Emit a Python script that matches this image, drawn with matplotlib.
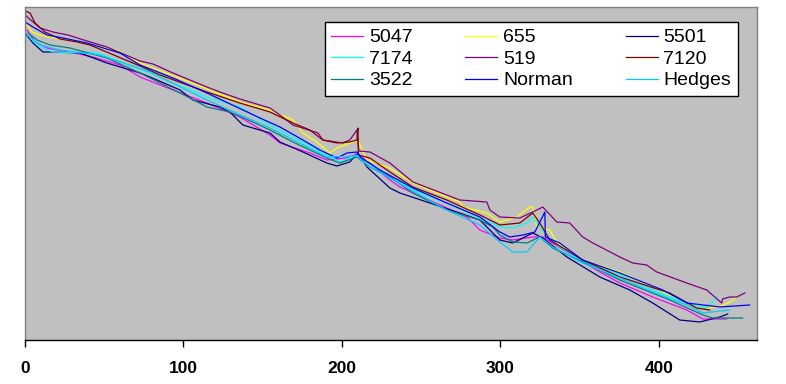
import matplotlib
matplotlib.use("Agg")
import matplotlib.pyplot as plt

plt.rcParams["font.family"] = ["Liberation Sans", "DejaVu Sans"]

# series (y in arbitrary units, the chart has no y labels)
x_5047 = [1.3, 6.3, 13.9, 28.4, 42.9, 59.9, 72.6, 93.4, 114.8, 135.6, 154.6, 160.9, 179.8, 190.5,
          203.2, 209.5, 217.7, 230.3, 236.6, 266.2, 278.9, 287.1, 299.7, 307.9, 320.5, 326.8,
          342.0, 362.8, 375.4, 396.2, 417.7, 427.8, 442.9]
y_5047 = [310, 298, 292, 288, 283, 275, 263, 250, 237, 223, 205, 197, 187, 180,
          182, 186, 177, 160, 153, 132, 123, 110, 102, 100, 103, 103,
          88, 68, 57, 43, 30, 21, 21]

x_655 = [1.3, 4.4, 9.5, 15.8, 34.7, 58.0, 72.6, 108.5, 135.6, 154.6, 169.1, 175.4, 184.2, 192.4,
         196.8, 206.9, 210.1, 215.8, 230.3, 244.8, 266.2, 274.4, 276.3, 291.5, 299.7, 310.4,
         318.6, 320.5, 323.0, 331.2, 335.6, 352.0, 375.4, 396.2, 417.7, 430.3, 438.5, 444.8, 449.2]
y_655 = [315, 308, 305, 303, 297, 290, 277, 255, 238, 230, 220, 207, 198, 187,
         192, 198, 200, 180, 172, 157, 143, 138, 133, 127, 118, 123,
         133, 133, 113, 110, 98, 80, 68, 53, 37, 32, 33, 38, 43]

x_5501 = [0.0, 5.0, 11.4, 17.7, 34.7, 51.7, 72.6, 78.9, 97.8, 106.0, 123.0, 129.3, 137.5, 143.8,
          154.6, 160.9, 175.4, 190.5, 196.8, 205.0, 210.1, 215.8, 230.3, 236.6, 255.5, 274.4,
          287.1, 299.7, 307.9, 320.5, 326.8, 342.0, 362.8, 381.7, 396.2, 413.2, 425.9, 438.5, 443.5]
y_5501 = [307, 297, 288, 288, 287, 277, 267, 263, 250, 240, 233, 228, 215, 212,
          207, 198, 188, 177, 174, 178, 187, 173, 152, 147, 137, 127,
          120, 100, 97, 107, 102, 83, 63, 50, 37, 20, 18, 23, 26]

x_7174 = [3.2, 9.5, 17.7, 45.4, 78.9, 93.4, 114.8, 135.6, 154.6, 169.1, 190.5, 198.7, 209.5, 215.8,
          230.3, 244.8, 266.2, 287.1, 299.7, 307.9, 316.7, 320.5, 324.9, 335.6, 352.0, 375.4,
          396.2, 417.7, 430.3, 436.6]
y_7174 = [302, 293, 288, 287, 267, 257, 243, 233, 215, 203, 185, 178, 185, 178,
          163, 150, 137, 122, 113, 112, 117, 123, 113, 95, 78, 65,
          50, 37, 32, 43]

x_519 = [0.0, 9.5, 17.7, 27.1, 39.1, 51.7, 72.6, 80.8, 93.4, 114.8, 123.0, 135.6, 154.6, 160.9,
         169.1, 184.9, 188.0, 200.6, 205.0, 209.5, 210.7, 217.7, 230.3, 244.8, 266.2, 274.4,
         291.5, 293.4, 299.7, 312.3, 320.5, 326.8, 335.6, 343.8, 352.0, 358.4, 375.4, 383.6,
         392.4, 398.7, 417.7, 430.3, 439.7, 440.3, 444.8, 449.2, 454.3]
y_519 = [325, 312, 308, 305, 299, 293, 279, 276, 267, 253, 248, 241, 232, 225,
         215, 207, 200, 197, 200, 210, 189, 188, 177, 158, 145, 140,
         138, 130, 123, 122, 128, 133, 118, 117, 103, 97, 83, 77,
         75, 68, 57, 50, 37, 41, 43, 43, 47]

x_7120 = [0.0, 3.2, 6.3, 12.6, 22.1, 32.8, 41.0, 72.6, 85.2, 114.8, 135.6, 154.6, 169.1, 179.8,
          188.0, 196.8, 205.0, 209.5, 210.1, 210.4, 217.7, 230.3, 244.8, 266.2, 287.1, 299.7,
          312.3, 320.5, 324.9, 331.2, 352.0, 375.4, 406.9, 423.9, 432.2]
y_7120 = [329, 327, 317, 308, 301, 298, 295, 274, 265, 248, 237, 228, 217, 210,
          200, 197, 198, 200, 212, 185, 182, 168, 153, 140, 125, 115,
          117, 127, 117, 100, 80, 63, 47, 32, 30]

x_3522 = [1.9, 7.6, 15.8, 28.4, 51.7, 72.6, 104.1, 114.8, 129.3, 143.8, 154.6, 169.1, 190.5, 198.7,
          209.5, 217.7, 230.3, 244.8, 266.2, 287.1, 295.3, 299.7, 307.9, 316.7, 324.9, 333.1,
          352.0, 375.4, 406.9, 427.8, 434.1, 452.9]
y_3522 = [307, 300, 295, 292, 282, 267, 242, 233, 228, 218, 210, 198, 182, 177,
          183, 173, 163, 147, 130, 120, 113, 105, 98, 97, 103, 92,
          78, 60, 40, 25, 22, 22]

x_norman = [0.0, 5.0, 13.9, 24.0, 39.1, 59.9, 72.6, 93.4, 114.8, 148.3, 160.9, 175.4, 186.1, 196.8,
            203.2, 209.5, 211.4, 224.0, 244.8, 266.2, 287.1, 299.7, 306.0, 314.2, 321.8, 328.1,
            328.4, 337.5, 352.0, 375.4, 402.5, 417.7, 438.5, 457.4]
y_norman = [318, 313, 305, 302, 297, 287, 275, 262, 247, 222, 213, 200, 190, 182,
            187, 188, 183, 170, 152, 137, 123, 108, 103, 105, 108, 128,
            103, 97, 80, 67, 50, 37, 33, 35]

x_hedges = [1.3, 9.5, 22.1, 47.3, 78.9, 114.8, 154.6, 190.5, 209.5, 215.8, 230.3, 266.2, 287.1,
            299.7, 307.9, 316.7, 324.9, 333.1, 352.0, 375.4, 396.2, 417.7, 427.8, 444.8]
y_hedges = [305, 295, 290, 285, 268, 240, 212, 183, 184, 175, 162, 130, 115,
            98, 88, 88, 103, 93, 77, 62, 48, 35, 27, 30]

names = ["5047", "655", "5501", "7174", "519", "7120", "3522", "Norman", "Hedges"]
xs = [x_5047, x_655, x_5501, x_7174, x_519, x_7120, x_3522, x_norman, x_hedges]
ys = [y_5047, y_655, y_5501, y_7174, y_519, y_7120, y_3522, y_norman, y_hedges]
colors = ["#FF00FF", "#FFFF00", "#000080", "#00FFFF", "#800080", "#800000",
          "#008080", "#0000FF", "#00CCFF"]

fig = plt.figure(figsize=(7.86, 3.84), dpi=100)
ax = fig.add_axes([25 / 786, 44 / 384, 732 / 786, 333 / 384])
ax.set_facecolor("#C0C0C0")

handles = {}
for name, x, y, c in zip(names, xs, ys, colors):
    (ln,) = ax.plot(x, y, color=c, linewidth=0.9, label=name)
    handles[name] = ln

ax.set_xlim(0, 462)
ax.set_ylim(0, 333)
ax.set_xticks([0, 100, 200, 300, 400])
ax.set_yticks([])
ax.tick_params(axis="x", direction="out", length=5, width=1, pad=10, labelsize=12.5)
for lab in ax.get_xticklabels():
    lab.set_fontweight("bold")

for side in ["top", "left", "right"]:
    ax.spines[side].set_color("#808080")
    ax.spines[side].set_linewidth(1)
ax.spines["bottom"].set_color("black")
ax.spines["bottom"].set_linewidth(1)

# legend is filled column by column, so reorder to get Excel's row order
order = ["5047", "7174", "3522", "655", "519", "Norman", "5501", "7120", "Hedges"]
leg = ax.legend(
    [handles[n] for n in order], order,
    ncol=3, loc="upper right",
    bbox_to_anchor=(738 / 786, 1 - 22 / 384), bbox_transform=fig.transFigure,
    borderaxespad=0, fontsize=14, frameon=True, fancybox=False,
    framealpha=1, edgecolor="black", handlelength=1.65, handletextpad=0.3,
    columnspacing=2.7, labelspacing=0.2, borderpad=0.35,
)
leg.get_frame().set_linewidth(1)

fig.savefig("out.png", dpi=100, facecolor="white")
